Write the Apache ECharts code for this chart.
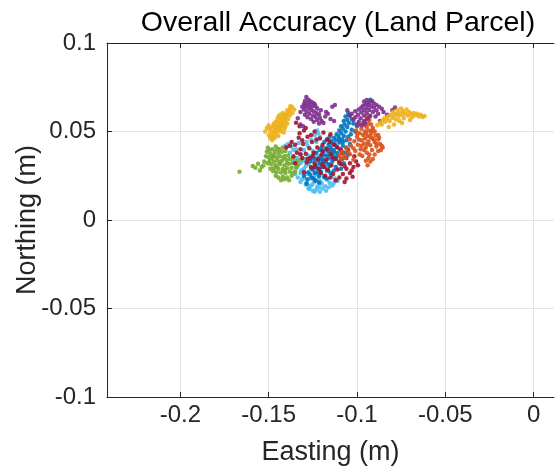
<!DOCTYPE html>
<html><head><meta charset="utf-8">
<script src="https://cdn.jsdelivr.net/npm/echarts@6/dist/echarts.min.js"></script>
<style>html,body{margin:0;padding:0;background:#fff}#c{width:555px;height:466px}</style>
</head><body><div id="c"></div>
<script>
var titleText = 'Overall Accuracy (Land Parcel)';
var xName = 'Easting (m)';
var yName = 'Northing (m)';
var xTicks = [-0.2, -0.15, -0.1, -0.05, 0];
var yTicks = [-0.1, -0.05, 0, 0.05, 0.1];

var lightBluePts = [[-0.1225,0.0505],[-0.1240,0.0480],[-0.1210,0.0470],[-0.1260,0.0455],[-0.1390,0.0430],[-0.1370,0.0415],[-0.1230,0.0440],[-0.1280,0.0420],[-0.1345,0.0400],[-0.1300,0.0395],[-0.1250,0.0390],[-0.1320,0.0375],[-0.1275,0.0365],[-0.1225,0.0360],[-0.1340,0.0350],[-0.1295,0.0345],[-0.1250,0.0335],[-0.1200,0.0330],[-0.1320,0.0320],[-0.1275,0.0315],[-0.1230,0.0308],[-0.1180,0.0300],[-0.1340,0.0295],[-0.1300,0.0290],[-0.1255,0.0285],[-0.1210,0.0278],[-0.1160,0.0275],[-0.1320,0.0265],[-0.1280,0.0262],[-0.1235,0.0255],[-0.1190,0.0250],[-0.1145,0.0255],[-0.1300,0.0240],[-0.1260,0.0235],[-0.1215,0.0230],[-0.1170,0.0228],[-0.1125,0.0235],[-0.1285,0.0215],[-0.1245,0.0210],[-0.1200,0.0205],[-0.1155,0.0210],[-0.1265,0.0192],[-0.1225,0.0188],[-0.1180,0.0190],[-0.1230,0.0172],[-0.1210,0.0160],[-0.1140,0.0195],[-0.1110,0.0220],[-0.1350,0.0260],[-0.1275,0.0180],
  [-0.1310,0.0230],[-0.1290,0.0200],[-0.1270,0.0175],[-0.1250,0.0165],[-0.1255,0.0198],[-0.1235,0.0225],[-0.1195,0.0178],[-0.1175,0.0165],[-0.1160,0.0185],[-0.1130,0.0210],[-0.1320,0.0215],[-0.1335,0.0240],[-0.1315,0.0280],[-0.1360,0.0330],[-0.1380,0.0380],[-0.1405,0.0420],[-0.1360,0.0395],[-0.1330,0.0435],[-0.1220,0.0490],[-0.1205,0.0215],[-0.1240,0.0160],[-0.1215,0.0185],[-0.1290,0.0305],[-0.1305,0.0335],[-0.1285,0.0440]];
var greenPts = [[-0.1665,0.0272],[-0.1590,0.0305],[-0.1575,0.0295],[-0.1560,0.0318],[-0.1540,0.0300],[-0.1530,0.0308],[-0.1505,0.0408],[-0.1495,0.0395],[-0.1480,0.0400],[-0.1465,0.0390],[-0.1450,0.0402],[-0.1490,0.0375],[-0.1470,0.0370],[-0.1445,0.0378],[-0.1425,0.0385],[-0.1405,0.0390],[-0.1500,0.0355],[-0.1480,0.0350],[-0.1455,0.0355],[-0.1435,0.0360],[-0.1410,0.0362],[-0.1390,0.0365],[-0.1495,0.0335],[-0.1470,0.0330],[-0.1450,0.0338],[-0.1425,0.0335],[-0.1400,0.0340],[-0.1380,0.0345],[-0.1360,0.0350],[-0.1485,0.0315],[-0.1460,0.0310],[-0.1435,0.0315],[-0.1410,0.0310],[-0.1385,0.0318],[-0.1365,0.0322],[-0.1340,0.0330],[-0.1470,0.0292],[-0.1445,0.0290],[-0.1420,0.0288],[-0.1395,0.0292],[-0.1370,0.0295],[-0.1345,0.0300],[-0.1455,0.0270],[-0.1430,0.0268],[-0.1405,0.0265],[-0.1380,0.0272],[-0.1350,0.0275],[-0.1420,0.0245],[-0.1395,0.0240],[-0.1430,0.0225],[-0.1370,0.0250],
  [-0.1510,0.0385],[-0.1515,0.0360],[-0.1505,0.0320],[-0.1490,0.0290],[-0.1475,0.0275],[-0.1460,0.0250],[-0.1445,0.0240],[-0.1410,0.0230],[-0.1385,0.0225],[-0.1360,0.0265],[-0.1335,0.0310],[-0.1320,0.0340],[-0.1440,0.0400],[-0.1420,0.0410],[-0.1460,0.0415],[-0.1475,0.0360],[-0.1415,0.0350],[-0.1440,0.0325],[-0.1395,0.0320],[-0.1455,0.0300],[-0.1410,0.0280],[-0.1550,0.0280],[-0.1525,0.0330]];
var bluePts = [[-0.0925,0.0680],[-0.1050,0.0605],[-0.1040,0.0590],[-0.1065,0.0585],[-0.1030,0.0570],[-0.1055,0.0565],[-0.1075,0.0560],[-0.1045,0.0548],[-0.1070,0.0540],[-0.1090,0.0530],[-0.1055,0.0525],[-0.1080,0.0515],[-0.1100,0.0505],[-0.1065,0.0500],[-0.1090,0.0490],[-0.1115,0.0485],[-0.1075,0.0475],[-0.1105,0.0470],[-0.1130,0.0465],[-0.1085,0.0455],[-0.1120,0.0450],[-0.1145,0.0445],[-0.1100,0.0438],[-0.1135,0.0430],[-0.1160,0.0425],[-0.1080,0.0420],[-0.1115,0.0415],[-0.1150,0.0410],[-0.1175,0.0405],[-0.1095,0.0400],[-0.1130,0.0395],[-0.1165,0.0390],[-0.1190,0.0385],[-0.1110,0.0378],[-0.1145,0.0372],[-0.1180,0.0365],[-0.1205,0.0360],[-0.1125,0.0355],[-0.1160,0.0348],[-0.1195,0.0342],[-0.1220,0.0335],[-0.1140,0.0330],[-0.1175,0.0325],[-0.1210,0.0318],[-0.1235,0.0310],[-0.1155,0.0305],[-0.1190,0.0300],[-0.1225,0.0292],[-0.1250,0.0285],[-0.1170,0.0280],[-0.1205,0.0272],[-0.1240,0.0265],[-0.1265,0.0255],[-0.1215,0.0248],[-0.1255,0.0240],[-0.1280,0.0230],[-0.1235,0.0222],[-0.1285,0.0205],[-0.1060,0.0450],[-0.1040,0.0430],[-0.1030,0.0510],[-0.1155,0.0470],[-0.1200,0.0410],[-0.1130,0.0280],[-0.1100,0.0320],
  [-0.1185,0.0440],[-0.1165,0.0455],[-0.1210,0.0395],[-0.1230,0.0380],[-0.1250,0.0355],[-0.1265,0.0330],[-0.1240,0.0345],[-0.1200,0.0345],[-0.1165,0.0365],[-0.1135,0.0345],[-0.1110,0.0360],[-0.1085,0.0345],[-0.1070,0.0380],[-0.1060,0.0410],[-0.1050,0.0470],[-0.1035,0.0485],[-0.1010,0.0500],[-0.1000,0.0530],[-0.1020,0.0545],[-0.1120,0.0300],[-0.1090,0.0290],[-0.1150,0.0265],[-0.1185,0.0240],[-0.1225,0.0270],[-0.1260,0.0300],[-0.1275,0.0270],[-0.1300,0.0250],[-0.1190,0.0330],[-0.1245,0.0235],[-0.1145,0.0395],[-0.1125,0.0425],[-0.1100,0.0455],[-0.1080,0.0440],[-0.1200,0.0300],[-0.1160,0.0315],[-0.1075,0.0320],[-0.1050,0.0370],[-0.1130,0.0380],[-0.1215,0.0210],[-0.1170,0.0235]];
var darkRedPts = [[-0.1345,0.0550],[-0.1325,0.0530],[-0.1300,0.0505],[-0.1240,0.0500],[-0.1190,0.0495],[-0.1150,0.0485],[-0.1400,0.0410],[-0.1370,0.0440],[-0.1330,0.0465],[-0.1280,0.0470],[-0.1210,0.0460],[-0.1170,0.0455],[-0.1350,0.0425],[-0.1305,0.0430],[-0.1255,0.0440],[-0.1195,0.0425],[-0.1320,0.0400],[-0.1270,0.0405],[-0.1225,0.0410],[-0.1170,0.0400],[-0.1110,0.0410],[-0.1340,0.0380],[-0.1290,0.0375],[-0.1245,0.0380],[-0.1200,0.0370],[-0.1150,0.0375],[-0.1085,0.0380],[-0.1310,0.0350],[-0.1265,0.0350],[-0.1220,0.0345],[-0.1175,0.0340],[-0.1120,0.0345],[-0.1060,0.0350],[-0.1285,0.0325],[-0.1240,0.0320],[-0.1195,0.0315],[-0.1145,0.0310],[-0.1090,0.0315],[-0.1040,0.0320],[-0.1260,0.0295],[-0.1215,0.0290],[-0.1165,0.0285],[-0.1110,0.0285],[-0.1060,0.0290],[-0.1020,0.0300],[-0.1135,0.0260],[-0.1080,0.0260],[-0.1040,0.0265],[-0.1100,0.0240],[-0.1060,0.0235],[-0.1180,0.0250],[-0.1005,0.0330],[-0.1030,0.0280],[-0.1350,0.0320],[-0.1300,0.0270],
  [-0.1310,0.0450],[-0.1260,0.0480],[-0.1230,0.0455],[-0.1155,0.0440],[-0.1130,0.0425],[-0.1090,0.0395],[-0.1050,0.0395],[-0.1015,0.0360],[-0.0995,0.0310],[-0.1025,0.0245],[-0.1070,0.0215],[-0.1120,0.0225],[-0.1150,0.0240],[-0.1205,0.0265],[-0.1240,0.0300],[-0.1280,0.0345],[-0.1320,0.0370],[-0.1360,0.0360],[-0.1380,0.0420],[-0.1250,0.0365],[-0.1195,0.0390],[-0.1140,0.0355],[-0.1100,0.0330],[-0.1070,0.0305],[-0.1185,0.0300],[-0.1325,0.0490],[-0.1290,0.0520]];
var orangePts = [[-0.0945,0.0580],[-0.0930,0.0565],[-0.0955,0.0560],[-0.0935,0.0545],[-0.0920,0.0540],[-0.0960,0.0535],[-0.0945,0.0525],[-0.0910,0.0520],[-0.0975,0.0515],[-0.0935,0.0505],[-0.0955,0.0500],[-0.0900,0.0500],[-0.0985,0.0490],[-0.0920,0.0488],[-0.0965,0.0480],[-0.0940,0.0475],[-0.0895,0.0478],[-0.1000,0.0470],[-0.0955,0.0460],[-0.0915,0.0462],[-0.0880,0.0455],[-0.0975,0.0450],[-0.0935,0.0445],[-0.1015,0.0445],[-0.0900,0.0440],[-0.0960,0.0432],[-0.0870,0.0430],[-0.0995,0.0425],[-0.0925,0.0422],[-0.1035,0.0420],[-0.0890,0.0415],[-0.0950,0.0410],[-0.1060,0.0405],[-0.0980,0.0400],[-0.0865,0.0395],[-0.0915,0.0395],[-0.1010,0.0390],[-0.1085,0.0385],[-0.0945,0.0380],[-0.1040,0.0372],[-0.0900,0.0370],[-0.1100,0.0365],[-0.0970,0.0362],[-0.1065,0.0350],[-0.0935,0.0350],[-0.0925,0.0330],[-0.0940,0.0310],[-0.1020,0.0340],[-0.0855,0.0410],[-0.0880,0.0480],[-0.0990,0.0540],[-0.1005,0.0505],
  [-0.0965,0.0550],[-0.0950,0.0490],[-0.0925,0.0470],[-0.0905,0.0455],[-0.0890,0.0430],[-0.0940,0.0430],[-0.0975,0.0420],[-0.1020,0.0405],[-0.1050,0.0385],[-0.1075,0.0365],[-0.1090,0.0345],[-0.0960,0.0395],[-0.0930,0.0370],[-0.0910,0.0345],[-0.0950,0.0335],[-0.0985,0.0370],[-0.0880,0.0390],[-0.0860,0.0420],[-0.0875,0.0465],[-0.0990,0.0455],[-0.0915,0.0505],[-0.0930,0.0590],[-0.1000,0.0490],[-0.1040,0.0455]];
var yellowLeftPts = [[-0.1490,0.0462],[-0.1485,0.0475],[-0.1478,0.0468],[-0.1470,0.0480],[-0.1482,0.0490],[-0.1465,0.0492],[-0.1458,0.0485],[-0.1472,0.0502],[-0.1460,0.0505],[-0.1450,0.0498],[-0.1445,0.0510],[-0.1455,0.0518],[-0.1440,0.0522],[-0.1432,0.0515],[-0.1448,0.0530],[-0.1438,0.0535],[-0.1428,0.0528],[-0.1420,0.0540],[-0.1435,0.0548],[-0.1425,0.0552],[-0.1415,0.0548],[-0.1442,0.0560],[-0.1430,0.0565],[-0.1418,0.0562],[-0.1410,0.0570],[-0.1425,0.0578],[-0.1412,0.0585],[-0.1402,0.0580],[-0.1398,0.0592],[-0.1408,0.0598],[-0.1392,0.0605],[-0.1385,0.0612],[-0.1395,0.0620],[-0.1380,0.0625],[-0.1372,0.0632],[-0.1368,0.0640],[-0.1378,0.0642],[-0.1460,0.0555],[-0.1450,0.0570],[-0.1470,0.0545],[-0.1405,0.0530],[-0.1395,0.0545],[-0.1492,0.0505],[-0.1500,0.0480],[-0.1410,0.0515],
  [-0.1520,0.0500],[-0.1510,0.0520],[-0.1500,0.0535],[-0.1488,0.0522],[-0.1475,0.0530],[-0.1465,0.0520],[-0.1455,0.0540],[-0.1445,0.0585],[-0.1435,0.0595],[-0.1420,0.0605],[-0.1405,0.0560],[-0.1390,0.0570],[-0.1380,0.0590],[-0.1365,0.0605],[-0.1355,0.0625],[-0.1480,0.0450],[-0.1465,0.0465],[-0.1445,0.0475],[-0.1430,0.0500],[-0.1415,0.0495]];
var purpleLeftPts = [[-0.1287,0.0695],[-0.1275,0.0680],[-0.1295,0.0672],[-0.1262,0.0670],[-0.1280,0.0660],[-0.1300,0.0655],[-0.1250,0.0662],[-0.1268,0.0650],[-0.1240,0.0655],[-0.1290,0.0642],[-0.1310,0.0640],[-0.1255,0.0640],[-0.1235,0.0642],[-0.1275,0.0632],[-0.1225,0.0630],[-0.1300,0.0625],[-0.1260,0.0622],[-0.1245,0.0615],[-0.1285,0.0612],[-0.1320,0.0610],[-0.1230,0.0605],[-0.1270,0.0600],[-0.1215,0.0598],[-0.1295,0.0595],[-0.1250,0.0590],[-0.1235,0.0582],[-0.1280,0.0580],[-0.1210,0.0578],[-0.1260,0.0570],[-0.1225,0.0565],[-0.1200,0.0560],[-0.1245,0.0555],[-0.1190,0.0548],[-0.1215,0.0545],[-0.1180,0.0585],[-0.1175,0.0610],[-0.1165,0.0600],[-0.1150,0.0570],[-0.1140,0.0640],[-0.1125,0.0650],[-0.1130,0.0560],[-0.1320,0.0540],[-0.1305,0.0530],[-0.1335,0.0575],[-0.1205,0.0620]];
var purpleRightPts = [[-0.0960,0.0670],[-0.0945,0.0678],[-0.0930,0.0665],[-0.0915,0.0672],[-0.0950,0.0655],[-0.0935,0.0650],[-0.0905,0.0660],[-0.0965,0.0645],[-0.0920,0.0642],[-0.0890,0.0650],[-0.0975,0.0635],[-0.0945,0.0632],[-0.0905,0.0635],[-0.0875,0.0640],[-0.0990,0.0625],[-0.0960,0.0620],[-0.0930,0.0622],[-0.0890,0.0620],[-0.0860,0.0628],[-0.1010,0.0615],[-0.0975,0.0608],[-0.0945,0.0605],[-0.0910,0.0610],[-0.0880,0.0600],[-0.1030,0.0600],[-0.0995,0.0595],[-0.0960,0.0590],[-0.0925,0.0588],[-0.0895,0.0585],[-0.1045,0.0590],[-0.1010,0.0580],[-0.0980,0.0575],[-0.0940,0.0572],[-0.1020,0.0565],[-0.0990,0.0555],[-0.0960,0.0560],[-0.1000,0.0540],[-0.0975,0.0535],[-0.0850,0.0610],[-0.0830,0.0595],[-0.0800,0.0620],[-0.0785,0.0635],[-0.1055,0.0620],[-0.0870,0.0560],[-0.0955,0.0545]];
var yellowRightPts = [[-0.0885,0.0535],[-0.0870,0.0550],[-0.0860,0.0540],[-0.0855,0.0562],[-0.0845,0.0575],[-0.0840,0.0555],[-0.0830,0.0568],[-0.0825,0.0585],[-0.0815,0.0560],[-0.0810,0.0595],[-0.0800,0.0578],[-0.0795,0.0610],[-0.0790,0.0590],[-0.0780,0.0568],[-0.0775,0.0600],[-0.0770,0.0622],[-0.0765,0.0585],[-0.0760,0.0605],[-0.0750,0.0630],[-0.0745,0.0595],[-0.0740,0.0615],[-0.0735,0.0575],[-0.0728,0.0600],[-0.0720,0.0625],[-0.0712,0.0590],[-0.0705,0.0610],[-0.0695,0.0598],[-0.0688,0.0580],[-0.0680,0.0605],[-0.0670,0.0592],[-0.0660,0.0600],[-0.0650,0.0585],[-0.0640,0.0595],[-0.0628,0.0582],[-0.0618,0.0588],[-0.0760,0.0560],[-0.0745,0.0548],[-0.0820,0.0525],[-0.0700,0.0565],[-0.0790,0.0540]];

var seriesList = [
  {data: lightBluePts, color: '#4DBEEE'},
  {data: greenPts, color: '#77AC30'},
  {data: bluePts, color: '#0072BD'},
  {data: darkRedPts, color: '#A2142F'},
  {data: orangePts, color: '#D95319'},
  {data: yellowLeftPts, color: '#EDB120'},
  {data: purpleLeftPts, color: '#7E2F8E'},
  {data: purpleRightPts, color: '#7E2F8E'},
  {data: yellowRightPts, color: '#EDB120'}
];

var FONT = 'Liberation Sans, Arial, Helvetica, sans-serif';
var axisLineStyle = {color: '#262626', width: 1};
function fmt(v){ return String(Math.round(v*1000)/1000); }

var chart = echarts.init(document.getElementById('c'), null, {renderer: 'canvas'});
chart.setOption({
  animation: false,
  backgroundColor: '#ffffff',
  title: {text: titleText, left: 333, top: 4, textAlign: 'center',
    textStyle: {fontFamily: FONT, fontSize: 28.5, fontWeight: 'normal', color: '#000'}},
  grid: {left: 107, top: 43, width: 447, height: 354, containLabel: false, outerBoundsMode: 'none'},
  xAxis: [{
    type: 'value', min: -0.2415, max: 0.0115, position: 'bottom',
    name: xName, nameLocation: 'middle', nameGap: 42, nameMoveOverlap: false,
    nameTextStyle: {fontFamily: FONT, fontSize: 27, color: '#262626'},
    axisLine: {show: true, onZero: false, lineStyle: axisLineStyle},
    axisTick: {show: true, inside: true, length: 5, customValues: xTicks, lineStyle: axisLineStyle},
    axisLabel: {show: true, customValues: xTicks, formatter: fmt, margin: 6,
      fontFamily: FONT, fontSize: 24, color: '#262626'},
    splitLine: {show: true, lineStyle: {color: '#e3e3e3', width: 1}}
  }, {
    type: 'value', min: -0.2415, max: 0.0115, position: 'top',
    axisLine: {show: true, onZero: false, lineStyle: axisLineStyle},
    axisTick: {show: true, inside: true, length: 5, customValues: xTicks, lineStyle: axisLineStyle},
    axisLabel: {show: false}, splitLine: {show: false}
  }],
  yAxis: [{
    type: 'value', min: -0.1, max: 0.1, interval: 0.05, position: 'left',
    name: yName, nameLocation: 'middle', nameGap: 66, nameMoveOverlap: false,
    nameTextStyle: {fontFamily: FONT, fontSize: 27, color: '#262626'},
    axisLine: {show: true, onZero: false, lineStyle: axisLineStyle},
    axisTick: {show: true, inside: true, length: 5, lineStyle: axisLineStyle},
    axisLabel: {show: true, formatter: fmt, margin: 11, fontFamily: FONT, fontSize: 24, color: '#262626'},
    splitLine: {show: true, lineStyle: {color: '#e3e3e3', width: 1}}
  }],
  series: seriesList.map(function(s){
    return {type: 'scatter', data: s.data, symbol: 'circle', symbolSize: 4.5,
      itemStyle: {color: s.color, opacity: 0.9}, emphasis: {disabled: true}};
  })
});
</script></body></html>
